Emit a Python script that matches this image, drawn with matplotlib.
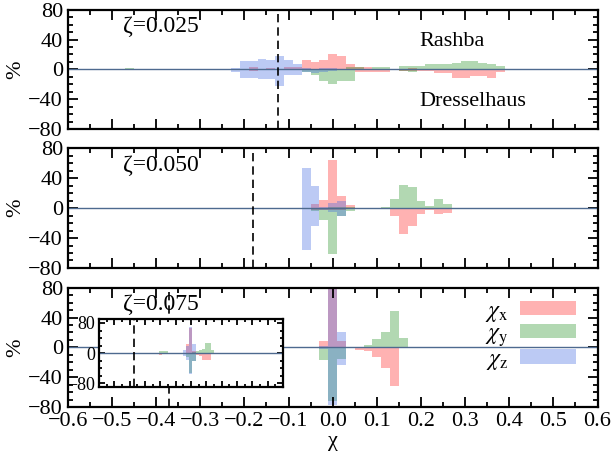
"""Spin-texture histograms for three zeta values."""

import matplotlib
matplotlib.use('Agg')
import matplotlib.pyplot as plt
from matplotlib.patches import Patch
from matplotlib.ticker import MultipleLocator

plt.rcParams['font.family'] = 'Liberation Serif'
plt.rcParams['mathtext.fontset'] = 'stix'
plt.rcParams['font.size'] = 16

# --- data -------------------------------------------------------------
# top panel, zeta = 0.025
top_x = [-0.22, -0.20, -0.18, -0.16, -0.14, -0.12, -0.10, -0.08, -0.06, -0.04,
         -0.02, 0.00, 0.02, 0.04, 0.06, 0.08, 0.10, 0.12, 0.14, 0.16,
         0.18, 0.20, 0.22, 0.24, 0.26, 0.28, 0.30, 0.32, 0.34, 0.36, 0.38]
top_red_up = [0, 0, 3, 0, 2, 0, 3, 3, 12, 10, 12, 21, 18, 7, 3, 3, 1, 1, 0, 1,
              2, 1, 1, 0, 0, 0, 0, 0, 0, 0, 0]
top_red_dn = [0, 0, 2, 0, 1, 0, 1, 1, 1, 1, 1, 1, 1, 1, 4, 4, 4, 4, 1, 2,
              2, 2, 2, 5, 5, 12, 12, 9, 9, 11, 3]
top_green_up = [0, 0, 1, 0, 1, 0, 0, 0, 1, 1, 1, 1, 1, 3, 3, 1, 3, 3, 1, 5,
                4, 5, 7, 7, 7, 9, 11, 11, 9, 7, 5]
top_green_dn = [0, 0, 0, 0, 0, 0, 0, 0, 3, 7, 15, 19, 15, 15, 1, 1, 1, 1, 0, 2,
                3, 1, 1, 0, 0, 0, 0, 0, 0, 0, 0]
top_blue_up = [2, 11, 11, 14, 13, 18, 12, 7, 2, 1, 2, 2, 1, 0, 0, 0, 0, 0, 0, 0,
               0, 0, 0, 0, 0, 0, 0, 0, 0, 0, 0]
top_blue_dn = [3, 11, 11, 13, 13, 22, 7, 7, 3, 5, 3, 2, 1, 0, 0, 0, 0, 0, 0, 0,
               0, 0, 0, 0, 0, 0, 0, 0, 0, 0, 0]
top_extra_x = [-0.46]
top_extra_green = [1.5]

# middle panel, zeta = 0.050
mid_x = [-0.06, -0.04, -0.02, 0.00, 0.02, 0.04, 0.06, 0.08, 0.10, 0.12,
         0.14, 0.16, 0.18, 0.20, 0.22, 0.24, 0.26]
mid_red_up = [0, 6, 11, 64, 16, 4, 0, 0, 0, 0, 0, 0, 0, 0, 0, 0, 0]
mid_red_dn = [0, 2, 2, 2, 2, 1, 0, 0, 0, 0, 11, 35, 24, 8, 3, 8, 6]
mid_green_up = [0, 0, 0, 2, 2, 1, 0, 0, 0, 2, 12, 31, 28, 9, 3, 12, 6]
mid_green_dn = [0, 4, 16, 61, 11, 4, 0, 0, 0, 0, 0, 0, 0, 0, 0, 0, 0]
mid_blue_up = [54, 30, 2, 7, 10, 0, 0, 0, 0, 0, 0, 0, 0, 0, 0, 0, 0]
mid_blue_dn = [56, 24, 2, 5, 11, 0, 0, 0, 0, 0, 0, 0, 0, 0, 0, 0, 0]

# bottom panel, zeta = 0.075
bot_x = [-0.02, 0.00, 0.02, 0.04, 0.06, 0.08, 0.10, 0.12, 0.14, 0.16]
bot_red_up = [9, 100, 9, 0, 0, 0, 0, 0, 0, 0]
bot_red_dn = [0, 0, 0, 0, 4, 5, 13, 27, 52, 0]
bot_green_up = [0, 0, 0, 0, 1, 3, 11, 20, 49, 13]
bot_green_dn = [17, 72, 15, 0, 0, 0, 0, 0, 0, 0]
bot_blue_up = [2, 100, 20, 0, 0, 0, 0, 0, 0, 0]
bot_blue_dn = [2, 77, 23, 0, 0, 0, 0, 0, 0, 0]

# inset of bottom panel
ins_x = [-0.48, -0.36, -0.30, -0.20, -0.18, -0.16, -0.04, -0.02, 0.00, 0.02,
         0.04, 0.06, 0.08, 0.10, 0.12, 0.14, 0.56]
ins_red_up = [0, 0, 0, 0, 0, 0, 0, 25, 68, 5, 0, 0, 0, 0, 0, 0, 0]
ins_red_dn = [3, 3, 3, 6, 0, 0, 0, 0, 0, 0, 6, 8, 17, 17, 17, 0, 2]
ins_green_up = [0, 0, 0, 5, 5, 5, 0, 0, 0, 2, 5, 8, 12, 28, 28, 9, 0]
ins_green_dn = [0, 0, 0, 0, 0, 0, 0, 10, 52, 20, 0, 0, 0, 0, 0, 0, 0]
ins_blue_up = [0, 0, 0, 0, 0, 0, 8, 20, 70, 25, 0, 0, 0, 0, 0, 0, 0]
ins_blue_dn = [0, 0, 0, 0, 0, 0, 8, 19, 55, 21, 0, 0, 0, 0, 0, 0, 0]

zeta_labels = ['ζ=0.025', 'ζ=0.050', 'ζ=0.075']
dashed_x = [-0.125, -0.18, -0.37]
legend_labels = [r'$\chi_\mathrm{x}$', r'$\chi_\mathrm{y}$', r'$\chi_\mathrm{z}$']

RED = (1.0, 0.0, 0.0, 0.3)
GREEN = (0.0, 0.5, 0.0, 0.3)
BLUE = (0.25, 0.41, 0.88, 0.35)
ZERO_COLOR = '#4e6a8f'
WIDTH = 0.02


def draw_hist(ax, x, red_up, red_dn, green_up, green_dn, blue_up, blue_dn):
    for up, dn, c in [(red_up, red_dn, RED), (green_up, green_dn, GREEN),
                      (blue_up, blue_dn, BLUE)]:
        ax.bar(x, up, width=WIDTH, color=c, linewidth=0)
        ax.bar(x, [-v for v in dn], width=WIDTH, color=c, linewidth=0)


def style_axis(ax, ylim=80, ymajor=40, yminor=10, size=16):
    ax.set_ylim(-ylim, ylim)
    ax.xaxis.set_major_locator(MultipleLocator(0.1))
    ax.xaxis.set_minor_locator(MultipleLocator(0.05))
    ax.yaxis.set_major_locator(MultipleLocator(ymajor))
    ax.yaxis.set_minor_locator(MultipleLocator(yminor))
    ax.tick_params(which='both', direction='in', top=True, right=True,
                   width=1.3, labelsize=size)
    ax.tick_params(which='major', length=7)
    ax.tick_params(which='minor', length=3.5)
    for s in ax.spines.values():
        s.set_linewidth(1.6)


fig = plt.figure(figsize=(6.11, 4.58), dpi=100)
left, width = 0.111, 0.867
panel_bottoms = [0.718, 0.415, 0.111]
height = 0.261

panels = [
    (top_x, top_red_up, top_red_dn, top_green_up, top_green_dn, top_blue_up, top_blue_dn),
    (mid_x, mid_red_up, mid_red_dn, mid_green_up, mid_green_dn, mid_blue_up, mid_blue_dn),
    (bot_x, bot_red_up, bot_red_dn, bot_green_up, bot_green_dn, bot_blue_up, bot_blue_dn),
]

axes = []
for i, data in enumerate(panels):
    ax = fig.add_axes([left, panel_bottoms[i], width, height])
    draw_hist(ax, *data)
    ax.axhline(0, color=ZERO_COLOR, lw=1)
    ax.axvline(dashed_x[i], color='black', lw=1.2, ls=(0, (5, 3)))
    ax.set_xlim(-0.6, 0.6)
    style_axis(ax)
    ax.set_yticks([-80, -40, 0, 40, 80])
    ax.set_ylabel('%', labelpad=2)
    ax.text(0.104, 0.86, zeta_labels[i], transform=ax.transAxes,
            va='center', ha='left', fontsize=17)
    if i < 2:
        ax.tick_params(labelbottom=False)
    axes.append(ax)

axes[0].bar(top_extra_x, top_extra_green, width=WIDTH, color=GREEN, linewidth=0)
axes[0].text(0.664, 0.73, 'Rashba', transform=axes[0].transAxes, va='center')
axes[0].text(0.664, 0.235, 'Dresselhaus', transform=axes[0].transAxes, va='center')
axes[2].set_xlabel('χ', labelpad=1)

handles = [Patch(color=c, linewidth=0) for c in (RED, GREEN, BLUE)]
axes[2].legend(handles, legend_labels, loc='upper right', frameon=False,
               markerfirst=False, handlelength=2.4, handleheight=0.55,
               labelspacing=0.0, handletextpad=0.5,
               bbox_to_anchor=(1.0, 1.07), fontsize=17)

# inset
ins = fig.add_axes([0.162, 0.155, 0.301, 0.148])
draw_hist(ins, ins_x, ins_red_up, ins_red_dn, ins_green_up, ins_green_dn,
          ins_blue_up, ins_blue_dn)
ins.axhline(0, color=ZERO_COLOR, lw=1)
ins.axvline(dashed_x[2], color='black', lw=1.2, ls=(0, (5, 3)))
ins.set_xlim(-0.6, 0.6)
style_axis(ins, ylim=90, ymajor=80, yminor=20, size=13)
ins.tick_params(which='major', length=4)
ins.tick_params(which='minor', length=2)
ins.tick_params(labelbottom=False)
ins.set_yticks([-80, 0, 80])
ins.tick_params(axis='y', pad=3)

plt.savefig('out.png', dpi=100)
plt.close()
